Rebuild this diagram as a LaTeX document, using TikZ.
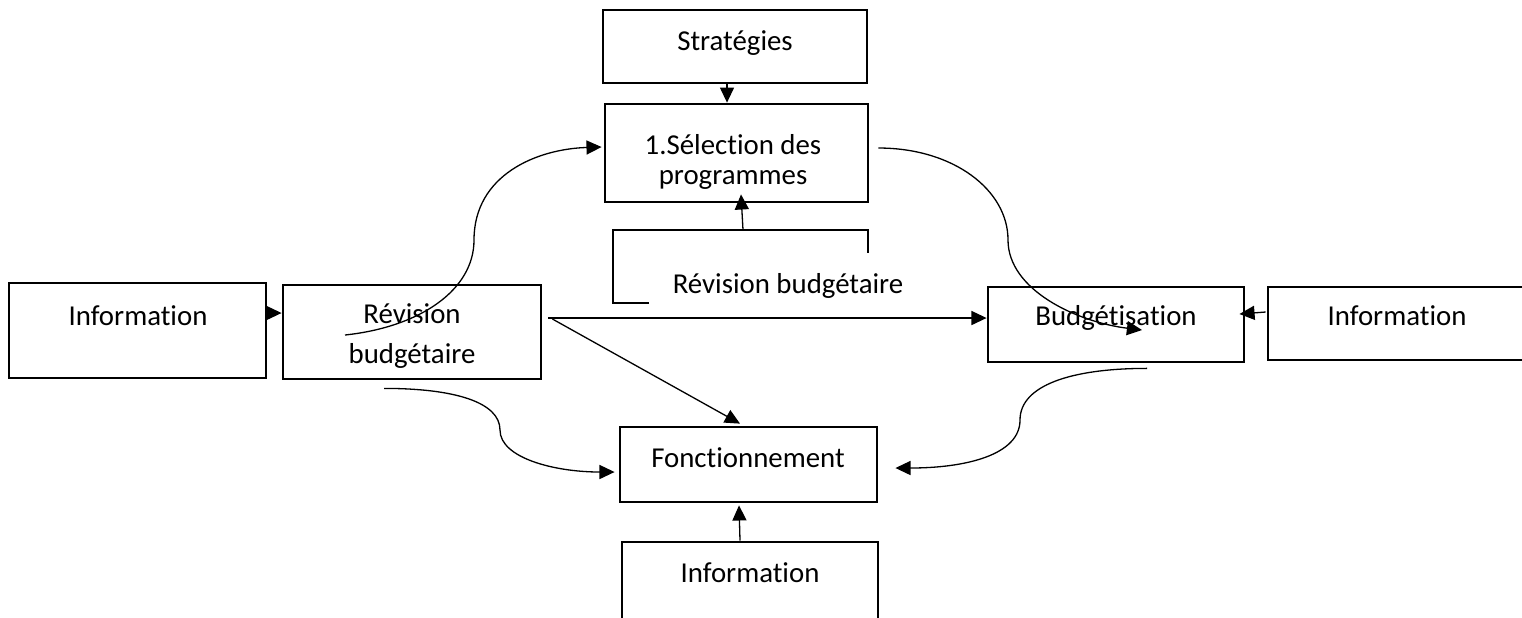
\documentclass[tikz,border=0pt]{standalone}
\usepackage{fontspec}
\setmainfont{Carlito}[Ligatures=NoCommon]
\usetikzlibrary{arrows.meta,calc}

\begin{document}
\begin{tikzpicture}[x=0.01cm, y=-0.01cm,
		box/.style={draw=black, line width=0.77pt, inner sep=0pt},
		txt/.style={inner sep=0pt, anchor=base, align=center, font=\fontsize{8.2}{8.5}\selectfont},
		conn/.style={line width=0.37pt, -{Triangle[length=4.3pt, width=4pt]}}]
				\useasboundingbox (0,0) rectangle (1522,617);
				\clip (0,0) rectangle (1522,617);
				
				\node[box, minimum width=2.64cm, minimum height=0.73cm] (strat) at (735,46.5){};
				\node[box, minimum width=2.63cm, minimum height=0.98cm] (sel) at (736.5,153){};
				\node[box, minimum width=2.57cm, minimum height=0.95cm] (infoL) at (137.5,330.5){};
				\node[box, minimum width=2.58cm, minimum height=0.94cm] (revis) at (412,332){};
				\node[box, minimum width=2.56cm, minimum height=0.75cm] (budg) at (1116,324.5){};
				\node[box, minimum width=2.58cm, minimum height=0.73cm] (infoR) at (1397,323.5){};
				\node[box, minimum width=2.57cm, minimum height=0.75cm] (fonct) at (748.5,464.5){};
				\node[box, minimum width=2.56cm, minimum height=0.78cm] (infoB) at (750,581){};
				\draw[line width=0.77pt] (649,303) -- (613,303) -- (613,230) -- (868,230) -- (868,253);
				\coordinate (infoC) at (743,230);
				
				\node[txt] (strat-t) at (735,50){Stratégies};
				\node[txt] (sel-t) at (733,184){1.Sélection des\\programmes};
				\node[txt] (infoL-t) at (138,325){Information};
				\node[txt, font=\fontsize{8.2}{11.1}\selectfont] (revis-t) at (412,363){Révision\\budgétaire};
				\node[txt] (revC-t) at (788,293){Révision budgétaire};
				\node[txt] (budg-t) at (1116,325){Budgétisation};
				\node[txt] (infoR-t) at (1397,325){Information};
				\node[txt] (fonct-t) at (748,467){Fonctionnement};
				\node[txt] (infoB-t) at (750,582){Information};
				
				\path[conn] ($(strat.south)+(-8,0)$) edge ($(sel.north)+(-9.5,0)$);
				\path[conn] (infoC) edge ($(sel.south)+(4.5,-9)$);
				\path[conn] ($(infoL.east)+(0,-17.5)$) edge ($(revis.west)+(0,-19)$);
				\path[conn] ($(revis.east)+(6,-14)$) edge ($(budg.west)+(0,-6.5)$);
				\path[conn] ($(revis.east)+(10,-13)$) edge ($(fonct.north)+(-8.5,-2)$);
				\path[conn] ($(infoB.north)+(-10,0)$) edge ($(fonct.south)+(-9.5,2)$);
				\path[conn] ($(infoR.west)+(-1,-11.5)$) edge ($(budg.east)+(-6,-10.5)$);
				
				\draw[conn] ($(revis.center)+(-67,3)$) .. controls +(75,-8) and +(0,50) .. (474,240) .. controls +(0,-65) and +(-65,2) .. ($(sel.west)+(-2,-6)$);
				\draw[conn] ($(sel.east)+(9,-5)$) .. controls +(75,0) and +(0,-50) .. (1008,240) .. controls +(0,50) and +(-65,-8) .. ($(budg.center)+(26,5.5)$);
				\draw[conn] ($(revis.south)+(-28,8)$) .. controls +(70,0) and +(0,-28) .. (500,430) .. controls +(0,28) and +(-60,0) .. ($(fonct.west)+(-4,7.5)$);
				\draw[conn] ($(budg.south)+(31,5)$) .. controls +(-75,0) and +(0,-35) .. (1020,420) .. controls +(0,35) and +(70,0) .. ($(fonct.east)+(17,3.5)$);
\end{tikzpicture}
\end{document}
